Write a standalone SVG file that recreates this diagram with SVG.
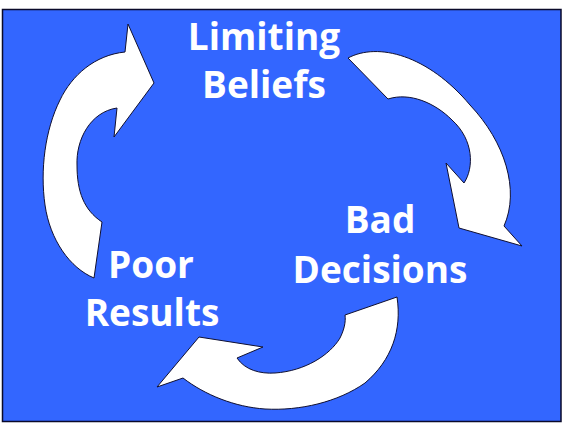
<svg xmlns="http://www.w3.org/2000/svg" width="566" height="429" viewBox="0 0 566 429">
<style>
.bg{fill:#3366ff;stroke:#0a0a2a;stroke-width:1.5}
.arrow{fill:#ffffff;stroke:#101030;stroke-width:1}
.lbl{font-family:"Open Sans","DejaVu Sans",sans-serif;font-weight:bold;font-size:37px;fill:#ffffff;text-anchor:middle}
</style>
<rect width="566" height="429" fill="#ffffff"/>
<rect class="bg" x="2.5" y="9.5" width="558.5" height="412"/>
<g id="connectors">
<path id="arrow-right" class="arrow" d="M 348,58 C 378,42 428,55 470,105 C 505,142 520,190 504,226 L 522,246 L 459,228 L 446,163 L 464,183 C 474,168 474,140 452,120 C 435,103 410,92 388,99 Z"/>
<path id="arrow-bottom" class="arrow" d="M 397,297 C 402,330 392,360 365,383 C 338,402 300,411 265,409 C 235,407 205,395 183,378 L 157,387 L 199,337 L 263,347 L 237,358 C 245,370 260,374 275,373 C 305,371 330,355 340,338 C 344,330 346,322 345,315 Z"/>
<path id="arrow-left" class="arrow" d="M 125,52 C 95,55 72,75 60,100 C 45,130 40,170 45,205 C 50,240 70,268 94,278 L 102,222 C 84,210 77,192 77,165 C 76,140 90,112 117,108 L 114,137 L 154,83 L 128,24 Z"/>
</g>
<g id="node-limiting-beliefs">
<text class="lbl" x="264" y="50">Limiting</text>
<text class="lbl" x="264" y="98">Beliefs</text>
</g>
<g id="node-bad-decisions">
<text class="lbl" x="380" y="233">Bad</text>
<text class="lbl" x="380" y="283">Decisions</text>
</g>
<g id="node-poor-results">
<text class="lbl" x="151" y="278">Poor</text>
<text class="lbl" x="152" y="326">Results</text>
</g>
</svg>
